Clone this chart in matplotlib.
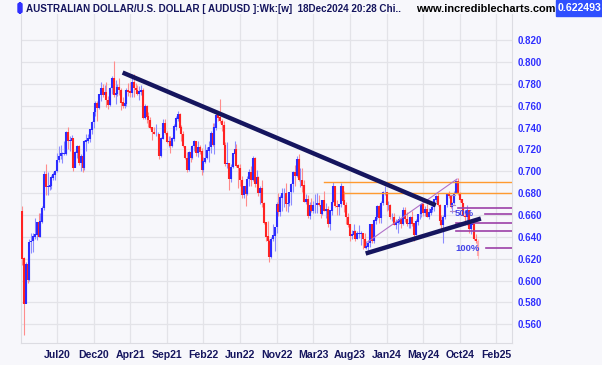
import numpy as np
import pandas as pd
import matplotlib
matplotlib.use('Agg')
import matplotlib.pyplot as plt
from matplotlib.patches import FancyBboxPatch, Rectangle

# weekly AUDUSD bars, week ending 13 Mar 2020 .. 18 Dec 2024
first_open = 0.6630
close = [
    0.6200, 0.5790, 0.6150, 0.6010, 0.6350, 0.6360, 0.6400, 0.6420, 0.6530, 0.6400,
    0.6540, 0.6660, 0.6970, 0.6860, 0.6860, 0.6870, 0.6940, 0.6970, 0.7000, 0.7100,
    0.7140, 0.7160, 0.7160, 0.7160, 0.7360, 0.7280, 0.7280, 0.7300, 0.7030, 0.7170,
    0.7230, 0.7080, 0.7140, 0.7030, 0.7270, 0.7280, 0.7300, 0.7380, 0.7450, 0.7540,
    0.7620, 0.7580, 0.7700, 0.7760, 0.7700, 0.7720, 0.7650, 0.7610, 0.7760, 0.7850,
    0.7700, 0.7710, 0.7770, 0.7740, 0.7630, 0.7600, 0.7620, 0.7740, 0.7730, 0.7720,
    0.7810, 0.7760, 0.7740, 0.7710, 0.7730, 0.7740, 0.7490, 0.7590, 0.7500, 0.7470,
    0.7400, 0.7360, 0.7340, 0.7340, 0.7340, 0.7140, 0.7300, 0.7440, 0.7350, 0.7270,
    0.7270, 0.7230, 0.7300, 0.7410, 0.7480, 0.7520, 0.7400, 0.7340, 0.7230, 0.7120,
    0.7010, 0.7170, 0.7120, 0.7230, 0.7270, 0.7170, 0.7220, 0.7180, 0.7010, 0.7090,
    0.7120, 0.7190, 0.7220, 0.7350, 0.7240, 0.7400, 0.7510, 0.7490, 0.7460, 0.7420,
    0.7240, 0.7070, 0.7070, 0.6930, 0.7040, 0.7160, 0.7200, 0.7050, 0.7030, 0.6920,
    0.6780, 0.6860, 0.6790, 0.6930, 0.6990, 0.6920, 0.7120, 0.6880, 0.6940, 0.6800,
    0.6840, 0.6710, 0.6530, 0.6400, 0.6360, 0.6220, 0.6380, 0.6410, 0.6490, 0.6700,
    0.6630, 0.6760, 0.6800, 0.6800, 0.6700, 0.6710, 0.6810, 0.6880, 0.6990, 0.6960,
    0.7110, 0.6920, 0.6920, 0.6870, 0.6720, 0.6740, 0.6590, 0.6690, 0.6640, 0.6690,
    0.6690, 0.6710, 0.6690, 0.6610, 0.6730, 0.6640, 0.6650, 0.6520, 0.6640, 0.6720,
    0.6860, 0.6680, 0.6670, 0.6700, 0.6860, 0.6730, 0.6690, 0.6580, 0.6510, 0.6410,
    0.6420, 0.6450, 0.6380, 0.6430, 0.6430, 0.6430, 0.6380, 0.6300, 0.6310, 0.6340,
    0.6510, 0.6360, 0.6550, 0.6580, 0.6680, 0.6570, 0.6710, 0.6810, 0.6810, 0.6690,
    0.6690, 0.6580, 0.6580, 0.6510, 0.6530, 0.6540, 0.6560, 0.6520, 0.6640, 0.6560,
    0.6520, 0.6520, 0.6580, 0.6520, 0.6420, 0.6540, 0.6610, 0.6610, 0.6700, 0.6620,
    0.6650, 0.6580, 0.6620, 0.6650, 0.6670, 0.6740, 0.6770, 0.6690, 0.6550, 0.6510,
    0.6580, 0.6690, 0.6790, 0.6770, 0.6670, 0.6710, 0.6800, 0.6910, 0.6790, 0.6740,
    0.6710, 0.6590, 0.6580, 0.6640, 0.6470, 0.6510, 0.6510, 0.6380, 0.6360, 0.6225,
]
high = [
    0.6685, 0.6220, 0.6170, 0.6200, 0.6380, 0.6440, 0.6440, 0.6570, 0.6540, 0.6620,
    0.6620, 0.6680, 0.7000, 0.7064, 0.6990, 0.6930, 0.6970, 0.6990, 0.7010, 0.7170,
    0.7230, 0.7240, 0.7180, 0.7280, 0.7370, 0.7410, 0.7320, 0.7330, 0.7300, 0.7190,
    0.7240, 0.7240, 0.7160, 0.7160, 0.7290, 0.7340, 0.7340, 0.7390, 0.7460, 0.7560,
    0.7640, 0.7640, 0.7710, 0.7820, 0.7800, 0.7790, 0.7820, 0.7690, 0.7770, 0.7870,
    0.8007, 0.7840, 0.7800, 0.7850, 0.7760, 0.7680, 0.7660, 0.7760, 0.7810, 0.7820,
    0.7890, 0.7890, 0.7810, 0.7790, 0.7780, 0.7790, 0.7760, 0.7620, 0.7610, 0.7540,
    0.7500, 0.7410, 0.7410, 0.7430, 0.7360, 0.7320, 0.7310, 0.7480, 0.7480, 0.7370,
    0.7320, 0.7320, 0.7310, 0.7430, 0.7510, 0.7556, 0.7530, 0.7420, 0.7370, 0.7230,
    0.7180, 0.7190, 0.7220, 0.7240, 0.7290, 0.7280, 0.7280, 0.7240, 0.7210, 0.7130,
    0.7250, 0.7220, 0.7280, 0.7370, 0.7440, 0.7440, 0.7540, 0.7540, 0.7661, 0.7480,
    0.7460, 0.7270, 0.7270, 0.7080, 0.7070, 0.7170, 0.7280, 0.7250, 0.7070, 0.7070,
    0.6960, 0.6870, 0.6880, 0.6960, 0.7020, 0.7050, 0.7140, 0.7130, 0.7010, 0.6960,
    0.6870, 0.6920, 0.6720, 0.6530, 0.6550, 0.6380, 0.6400, 0.6520, 0.6490, 0.6720,
    0.6800, 0.6780, 0.6850, 0.6850, 0.6890, 0.6770, 0.6810, 0.6890, 0.7000, 0.7060,
    0.7140, 0.7158, 0.7030, 0.7030, 0.6920, 0.6790, 0.6780, 0.6720, 0.6760, 0.6730,
    0.6790, 0.6800, 0.6780, 0.6680, 0.6740, 0.6820, 0.6710, 0.6680, 0.6650, 0.6760,
    0.6900, 0.6850, 0.6740, 0.6700, 0.6895, 0.6870, 0.6820, 0.6720, 0.6620, 0.6520,
    0.6460, 0.6520, 0.6460, 0.6450, 0.6510, 0.6450, 0.6440, 0.6440, 0.6360, 0.6370,
    0.6520, 0.6520, 0.6560, 0.6600, 0.6690, 0.6690, 0.6730, 0.6820, 0.6870, 0.6810,
    0.6730, 0.6700, 0.6620, 0.6620, 0.6560, 0.6560, 0.6590, 0.6570, 0.6670, 0.6670,
    0.6630, 0.6560, 0.6590, 0.6640, 0.6510, 0.6560, 0.6610, 0.6650, 0.6710, 0.6710,
    0.6680, 0.6700, 0.6660, 0.6680, 0.6700, 0.6750, 0.6780, 0.6800, 0.6700, 0.6600,
    0.6600, 0.6690, 0.6800, 0.6820, 0.6780, 0.6720, 0.6820, 0.6920, 0.6942, 0.6810,
    0.6750, 0.6710, 0.6640, 0.6690, 0.6640, 0.6550, 0.6540, 0.6530, 0.6430, 0.6380,
]
low = [
    0.6140, 0.5506, 0.5800, 0.5980, 0.6000, 0.6250, 0.6260, 0.6380, 0.6370, 0.6400,
    0.6400, 0.6530, 0.6650, 0.6780, 0.6780, 0.6830, 0.6840, 0.6920, 0.6920, 0.6990,
    0.7090, 0.7110, 0.7080, 0.7150, 0.7150, 0.7200, 0.7190, 0.7240, 0.7000, 0.7040,
    0.7120, 0.7060, 0.7000, 0.6990, 0.7010, 0.7190, 0.7260, 0.7270, 0.7340, 0.7400,
    0.7510, 0.7460, 0.7570, 0.7640, 0.7680, 0.7660, 0.7590, 0.7570, 0.7600, 0.7710,
    0.7680, 0.7620, 0.7690, 0.7700, 0.7560, 0.7580, 0.7580, 0.7600, 0.7690, 0.7680,
    0.7680, 0.7680, 0.7720, 0.7700, 0.7650, 0.7700, 0.7480, 0.7480, 0.7440, 0.7410,
    0.7390, 0.7290, 0.7340, 0.7320, 0.7290, 0.7110, 0.7130, 0.7300, 0.7340, 0.7260,
    0.7220, 0.7170, 0.7220, 0.7280, 0.7380, 0.7460, 0.7370, 0.7280, 0.7220, 0.7110,
    0.6990, 0.7000, 0.7090, 0.7110, 0.7190, 0.7140, 0.7130, 0.7160, 0.6967, 0.6990,
    0.7080, 0.7110, 0.7090, 0.7170, 0.7230, 0.7160, 0.7380, 0.7460, 0.7440, 0.7370,
    0.7230, 0.7050, 0.7030, 0.6830, 0.6900, 0.7030, 0.7130, 0.7040, 0.6850, 0.6870,
    0.6760, 0.6760, 0.6680, 0.6780, 0.6870, 0.6870, 0.6910, 0.6860, 0.6860, 0.6770,
    0.6700, 0.6670, 0.6520, 0.6360, 0.6360, 0.6170, 0.6210, 0.6360, 0.6270, 0.6440,
    0.6590, 0.6590, 0.6640, 0.6670, 0.6640, 0.6630, 0.6680, 0.6690, 0.6810, 0.6870,
    0.6950, 0.6910, 0.6860, 0.6810, 0.6720, 0.6700, 0.6570, 0.6560, 0.6630, 0.6620,
    0.6620, 0.6620, 0.6680, 0.6570, 0.6600, 0.6640, 0.6570, 0.6490, 0.6460, 0.6600,
    0.6720, 0.6670, 0.6600, 0.6600, 0.6670, 0.6720, 0.6630, 0.6520, 0.6490, 0.6360,
    0.6380, 0.6420, 0.6360, 0.6380, 0.6390, 0.6330, 0.6290, 0.6300, 0.6290, 0.6270,
    0.6310, 0.6340, 0.6340, 0.6520, 0.6560, 0.6530, 0.6530, 0.6690, 0.6780, 0.6640,
    0.6650, 0.6560, 0.6550, 0.6510, 0.6470, 0.6440, 0.6520, 0.6480, 0.6510, 0.6540,
    0.6500, 0.6480, 0.6480, 0.6500, 0.6360, 0.6420, 0.6510, 0.6560, 0.6580, 0.6590,
    0.6590, 0.6580, 0.6560, 0.6600, 0.6630, 0.6640, 0.6720, 0.6680, 0.6510, 0.6480,
    0.6348, 0.6560, 0.6670, 0.6760, 0.6660, 0.6620, 0.6700, 0.6800, 0.6780, 0.6720,
    0.6670, 0.6590, 0.6510, 0.6510, 0.6440, 0.6430, 0.6440, 0.6370, 0.6340, 0.6200,
]

# drawn studies (bar index, price)
down_trend = ([54.9, 225.9], [0.7904, 0.6690])
up_trend = ([187.6, 250.5], [0.6248, 0.6568])
swing_line = ([188.7, 237.5], [0.6354, 0.6930])
orange_levels = [(164.6, 0.6902), (175.6, 0.6802)]
fib_levels = [(237.9, 0.6662), (252.7, 0.6607), (236.8, 0.6525), (236.8, 0.6452), (253.2, 0.6297)]
last_price = '0.622493'

n = len(close)
x = np.arange(n)
c = np.array(close)
o = np.concatenate([[first_open], c[:-1]])
h = np.array(high)
l = np.array(low)
dates = pd.date_range('2020-03-13', periods=270, freq='W-FRI')

BG = '#f7f7fb'
NAVY = '#15155e'
BLUE = '#2f2fff'

fig = plt.figure(figsize=(6.02, 3.65), dpi=100, facecolor=BG)
ax = fig.add_axes([21/602, 1-343/365, (512-21)/602, (343-14)/365], facecolor=BG)

up = c >= o
body_col = np.where(up, '#2b2bff', '#ff2222')
wick_col = np.where(up, '#8c8cff', '#ff8c8c')
body_col[-1] = '#ffaaaa'
wick_col[-1] = '#ffc4c4'
ax.vlines(x, l, h, colors=wick_col, lw=0.8, zorder=2)
ax.vlines(x, np.minimum(o, c), np.maximum(o, c) + 0.0004, colors=body_col, lw=1.5, zorder=3)

xmax = 267.5
for xs, lev in orange_levels:
    ax.plot([xs, xmax], [lev, lev], color='#ff9a30', lw=1.0, zorder=4)
for xs, lev in fib_levels:
    ax.plot([xs, xmax], [lev, lev], color='#9c40a8', lw=1.2, zorder=4)
ax.plot([233.5, 236.5], [0.6785, 0.6785], color='#b088c0', lw=0.8, zorder=4)
ax.plot([233.5, 236.5], [0.6690, 0.6690], color='#b088c0', lw=0.8, zorder=4)
ax.plot([233.5, 236.5], [0.6640, 0.6640], color='#b088c0', lw=0.8, zorder=4)
ax.plot(*swing_line, color='#b070c8', lw=0.8, zorder=4)
ax.plot(*down_trend, color=NAVY, lw=3.2, solid_capstyle='butt', zorder=5)
ax.plot(*up_trend, color=NAVY, lw=3.2, solid_capstyle='butt', zorder=5)

ax.text(236.3, 0.6615, '50%', color='#4545e8', fontsize=6.8, fontweight='bold',
        va='center', ha='left', family='Liberation Sans', zorder=4)
ax.text(236.3, 0.6297, '100%', color='#4545e8', fontsize=6.8, fontweight='bold',
        va='center', ha='left', family='Liberation Sans', zorder=6)

ax.set_xlim(-0.6, xmax)
ax.set_ylim(0.5429, 0.8440)
ticks = np.arange(19, 270, 20)
ax.set_xticks(ticks)
ax.set_xticklabels([dates[i].strftime('%b%y') for i in ticks])
ax.set_yticks(np.arange(0.56, 0.8201, 0.02))
ax.yaxis.tick_right()
ax.yaxis.set_major_formatter(matplotlib.ticker.FormatStrFormatter('%.3f'))
ax.tick_params(axis='both', length=0)
ax.tick_params(axis='x', pad=5, labelsize=7.6, labelcolor=NAVY)
ax.tick_params(axis='y', pad=4, labelsize=7, labelcolor=BLUE)
for lab in ax.get_xticklabels() + ax.get_yticklabels():
    lab.set_fontweight('bold')
    lab.set_family('Liberation Sans')
ax.grid(True, color='#e3e3e8', lw=0.9)
ax.set_axisbelow(True)
ax.spines['top'].set_visible(False)
for side in ['left', 'right', 'bottom']:
    ax.spines[side].set_color('#dcdce2')
    ax.spines[side].set_linewidth(0.8)

# header
fig.patches.append(FancyBboxPatch((18/602, 1-13/365), 4/602, 10/365,
                                  boxstyle='round,pad=0,rounding_size=0.004',
                                  transform=fig.transFigure, color='#3030ff'))
fig.text(26/602, 1-8.5/365, 'AUSTRALIAN DOLLAR/U.S. DOLLAR [ AUDUSD ]:Wk:[w]  18Dec2024 20:28 Chi..',
         color=NAVY, fontsize=7.1, fontweight='bold', va='center', ha='left',
         family='Liberation Sans')
fig.text(416/602, 1-8.5/365, 'www.incrediblecharts.com', color='black', fontsize=7.9,
         fontweight='bold', va='center', ha='left', family='Liberation Sans')
fig.patches.append(Rectangle((556/602, 1-15.5/365), 46/602, 15.5/365,
                             transform=fig.transFigure, color='#2f4fff'))
fig.text(579/602, 1-8/365, last_price, color='white', fontsize=7.6, fontweight='bold',
         va='center', ha='center', family='Liberation Sans')

fig.savefig('out.png', dpi=100, facecolor=BG)
